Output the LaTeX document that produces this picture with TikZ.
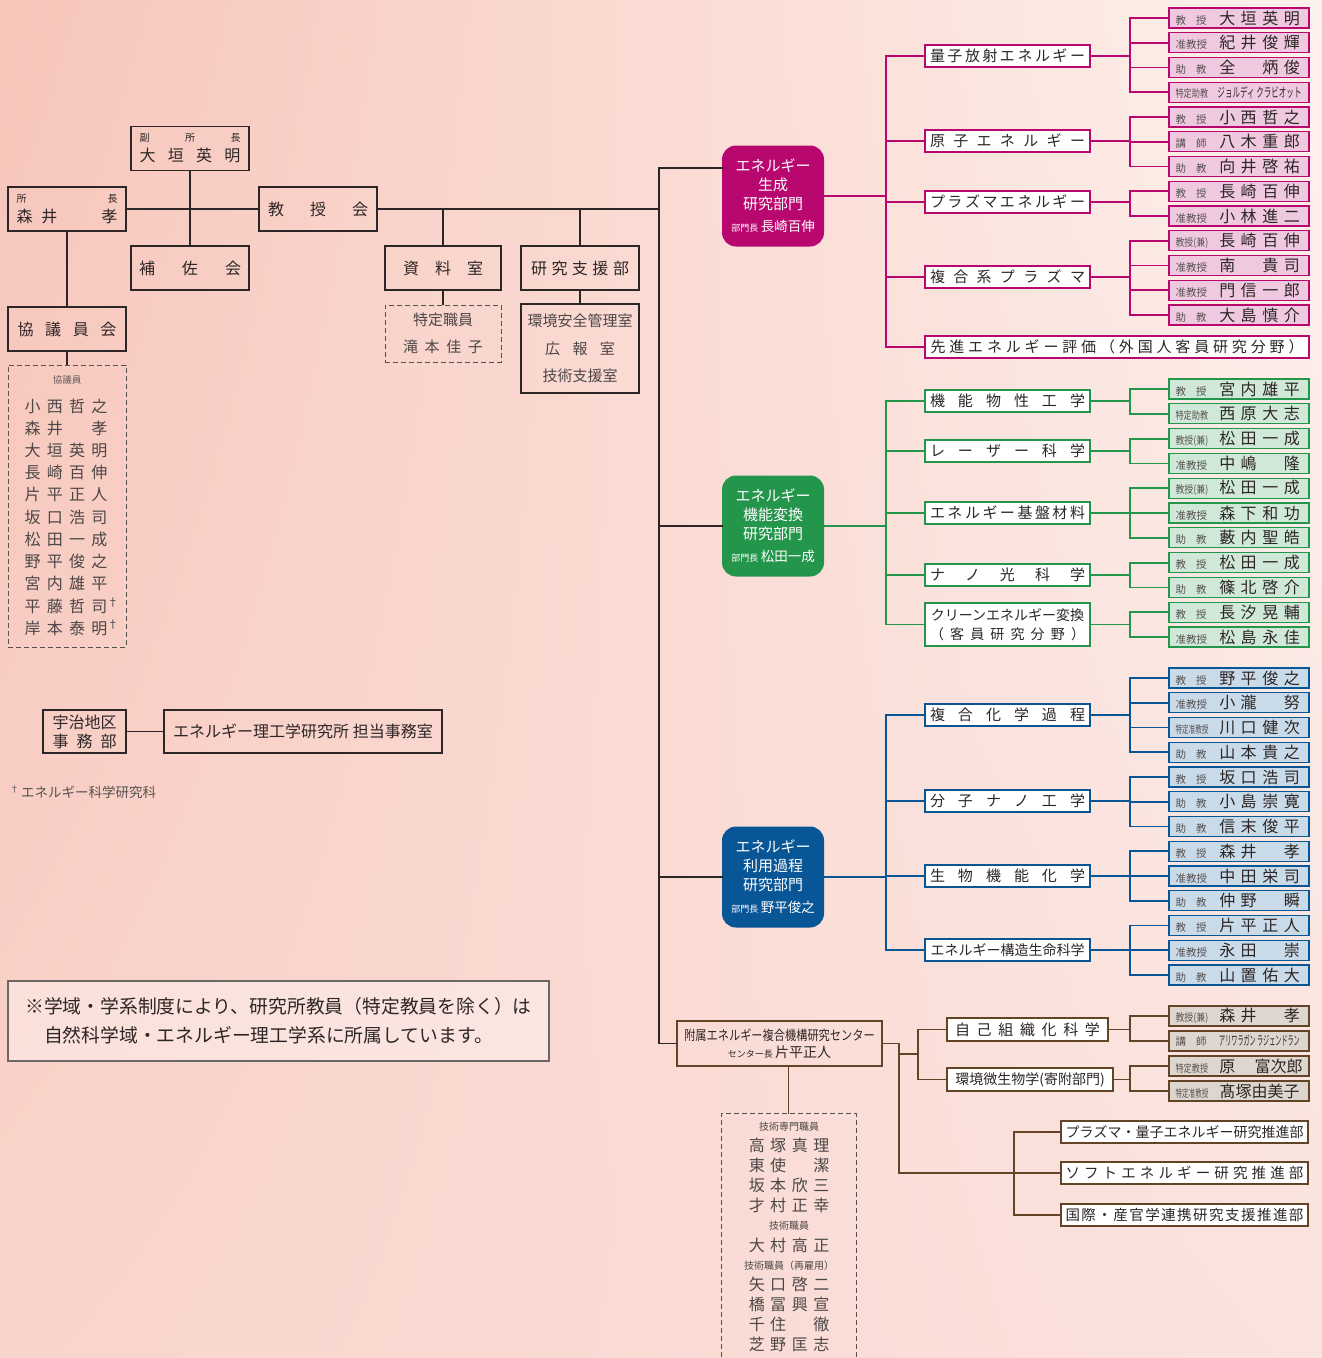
\documentclass[tikz,border=0pt]{standalone}
\usepackage{fontspec}
\setmainfont{Noto Sans CJK JP}
\usepackage{graphicx}
\usetikzlibrary{calc,positioning,math,shadings}

\definecolor{bgA}{RGB}{247,197,186}
\definecolor{bgB}{RGB}{253,241,236}
\definecolor{bgC}{RGB}{249,212,203}
\definecolor{bgD}{RGB}{250,226,222}
\definecolor{ink}{RGB}{45,38,38}
\definecolor{seiseiC}{RGB}{184,8,112}
\definecolor{henkanC}{RGB}{36,150,76}
\definecolor{riyoC}{RGB}{8,86,150}
\definecolor{centerC}{RGB}{100,68,38}

\newcommand\fsz[1]{\fontsize{#1}{#1}\selectfont}
\def\spreadaux#1{\ifx\relax#1\else#1\hfill\expandafter\spreadaux\fi}
\newcommand\spread[2]{\makebox[#1][s]{\spreadaux#2\relax\unskip}}
\newcommand\nm[5][21.5pt]{{\fsz{16}\makebox[#1]{#2}\makebox[#1]{#3}\makebox[#1]{#4}\makebox[#1]{#5}}}
\newcommand\ttl[2][1]{\makebox[41pt][l]{\fsz{10.5}\color{ink!80}\scalebox{#1}[1]{#2}}}
\newcommand\kj{\ttl{\makebox[31pt][s]{教\hfill 授}}}
\newcommand\jkj{\ttl{准教授}}
\newcommand\jk{\ttl{\makebox[31pt][s]{助\hfill 教}}}
\newcommand\ks{\ttl{\makebox[31pt][s]{講\hfill 師}}}
\newcommand\tjk{\ttl[0.78]{特定助教}}
\newcommand\kjk{\ttl[0.85]{教授(兼)}}
\newcommand\tjkj{\ttl[0.63]{特定准教授}}
\newcommand\tkj{\ttl[0.78]{特定教授}}

\tikzset{
  blk/.style={draw=ink, line width=1.8pt, inner sep=0pt, minimum width=118pt,
    minimum height=44pt, align=center, font=\fsz{16}, text=ink},
  dashbox/.style={draw=ink!80, dash pattern=on 5pt off 3pt, line width=1pt,
    inner sep=0pt, text=ink!85},
  dept/.style={fill=#1, rounded corners=14pt, minimum width=102pt,
    minimum height=101pt, inner sep=0pt, text=white, align=center,
    font=\fontsize{15}{19}\selectfont},
  lab/.style={draw=#1, line width=1.8pt, fill=white, minimum width=165pt,
    minimum height=22pt, inner sep=0pt, font=\fsz{15}, text=ink},
  staffbox/.style={draw=#1, fill=#1!22, line width=1.1pt, minimum width=140pt,
    minimum height=20pt, inner sep=0pt, text=ink},
  wire/.style={draw=#1, line width=1.8pt, line cap=rect},
  wire/.default=ink,
}

\begin{document}
\begin{tikzpicture}[x=1pt,y=-1pt]
\tikzmath{
\pitch=24.75;
\gpitch=24.8;
}
\useasboundingbox (0,0) rectangle (1322,1358);
\shade[upper left=bgA, upper right=bgB, lower left=bgC, lower right=bgD] (0,0) rectangle (1322,1358);

% executive
\node[blk] (fuku) at (190,148.5) {{\fsz{10}\spread{101pt}{副所長}}\\[4pt]\spread{101pt}{大垣英明}};
\node[blk] (shocho) at (67,209) {{\fsz{10}\spread{101pt}{所長}}\\[4pt]\makebox[101pt][s]{森\hspace{9pt}井\hfill 孝}};
\node[blk] (kyojukai) at (318,209) {\spread{100pt}{教授会}};
\node[blk] (hosakai) at (190,268) {\spread{102pt}{補佐会}};
\node[blk, minimum width=116pt] (shiryo) at (443,268) {\spread{80pt}{資料室}};
\node[blk] (shien) at (580,268) {\spread{98pt}{研究支援部}};
\node[dashbox, minimum width=116pt, minimum height=57pt, align=center,
  font=\fontsize{15}{27}\selectfont] (shiryoSub) at (443,333.5) {特定職員\\\spread{80pt}{滝本佳子}};
\node[blk, minimum height=89pt, text=ink!85, font=\fontsize{15}{27.5}\selectfont] (shienSub) at (580,348.5)
  {環境安全管理室\\\spread{70pt}{広報室}\\技術支援室};
\node[blk] (kyogikai) at (67,329) {\spread{99pt}{協議員会}};
\node[dashbox, minimum width=118pt, minimum height=282pt] (kyogiin) at (67,506) {};
\node[font=\fsz{9.5}, text=ink!75, inner sep=0pt] (kyogiinT) at (67,380) {協議員};
\foreach \ka/\kb/\kc/\kd [count=\i] in {小/西/哲/之, 森/井//孝, 大/垣/英/明, 長/崎/百/伸,
    片/平/正/人, 坂/口/浩/司, 松/田/一/成, 野/平/俊/之, 宮/内/雄/平,
    平/藤/哲/{司\rlap{\textsuperscript{†}}}, 岸/本/泰/{明\rlap{\textsuperscript{†}}}}
  \node[text=ink!85, inner sep=0pt] (kg\i) at (66,{406+22.2*(\i-1)}) {\nm[22.3pt]{\ka}{\kb}{\kc}{\kd}};

\node[blk, minimum width=83pt, minimum height=43pt, font=\fontsize{16}{19}\selectfont] (jimubu) at (84.5,731.5)
  {宇治地区\\\spread{64pt}{事務部}};
\node[blk, minimum width=278pt, minimum height=43pt] (jimushitsu) at (303,731.5) {エネルギー理工学研究所 担当事務室};
\node[anchor=west, font=\fsz{13.5}, text=ink!80, inner sep=0pt] (fn) at (10,792)
  {\raisebox{5pt}{\fsz{9}†}\hspace{2pt}エネルギー科学研究科};
\node[draw=ink!70, line width=1.2pt, fill=white, fill opacity=0.35, text opacity=1, text=ink,
  minimum width=541pt, minimum height=80pt, inner sep=0pt, align=left,
  font=\fontsize{18.8}{29}\selectfont] (note) at (278.5,1021)
  {※学域・学系制度により、研究所教員（特定教員を除く）は\\　自然科学域・エネルギー理工学系に所属しています。};

% departments
\node[dept=seiseiC] (seisei) at (773,196) {エネルギー\\生成\\研究部門\\[3pt]{\fsz{9}部門長}\,{\fsz{13.5}長崎百伸}};
\node[dept=henkanC] (henkan) at (773,526) {エネルギー\\機能変換\\研究部門\\[3pt]{\fsz{9}部門長}\,{\fsz{13.5}松田一成}};
\node[dept=riyoC] (riyo) at (773,877) {エネルギー\\利用過程\\研究部門\\[3pt]{\fsz{9}部門長}\,{\fsz{13.5}野平俊之}};
\node[draw=centerC, line width=1.8pt, minimum width=205pt, minimum height=45pt, inner sep=0pt,
  align=center, text=ink, font=\fontsize{13.5}{17}\selectfont] (center) at (779.5,1043.5)
  {\scalebox{0.83}[1]{附属エネルギー複合機構研究センター}\\{\fsz{9}センター長}\,{\fsz{14}片平正人}};

% research areas
\node[lab=seiseiC] (s1) at (1007.5,56) {\spread{155pt}{量子放射エネルギー}};
\node[lab=seiseiC] (s2) at (1007.5,141) {\spread{155pt}{原子エネルギー}};
\node[lab=seiseiC] (s3) at (1007.5,202) {\spread{155pt}{プラズマエネルギー}};
\node[lab=seiseiC] (s4) at (1007.5,277) {\spread{155pt}{複合系プラズマ}};
\node[lab=seiseiC, minimum width=384pt] (s5) at (1117,347) {\spread{373pt}{先進エネルギー評価（外国人客員研究分野）}};

\node[lab=henkanC] (h1) at (1007.5,401) {\spread{155pt}{機能物性工学}};
\node[lab=henkanC] (h2) at (1007.5,451) {\spread{155pt}{レーザー科学}};
\node[lab=henkanC] (h3) at (1007.5,513) {\spread{155pt}{エネルギー基盤材料}};
\node[lab=henkanC] (h4) at (1007.5,575) {\spread{155pt}{ナノ光科学}};
\node[lab=henkanC, minimum height=43pt, align=center, font=\fontsize{14}{19}\selectfont] (h5) at (1007.5,624.5)
  {クリーンエネルギー変換\\\spread{155pt}{（客員研究分野）}};

\node[lab=riyoC] (r1) at (1007.5,715) {\spread{155pt}{複合化学過程}};
\node[lab=riyoC] (r2) at (1007.5,801) {\spread{155pt}{分子ナノ工学}};
\node[lab=riyoC] (r3) at (1007.5,876) {\spread{155pt}{生物機能化学}};
\node[lab=riyoC, font=\fsz{14}] (r4) at (1007.5,950) {エネルギー構造生命科学};

\node[lab=centerC, minimum width=161pt, minimum height=23pt] (c1) at (1027.5,1029.5) {\spread{145pt}{自己組織化科学}};
\node[lab=centerC, minimum width=166pt, minimum height=23pt, font=\fsz{14}] (c2) at (1030,1079.5) {環境微生物学(寄附部門)};
\node[lab=centerC, minimum width=247pt, font=\fsz{14}] (p1) at (1184.5,1132) {\spread{238pt}{プラズマ・量子エネルギー研究推進部}};
\node[lab=centerC, minimum width=247pt, font=\fsz{14.5}] (p2) at (1184.5,1173) {\spread{238pt}{ソフトエネルギー研究推進部}};
\node[lab=centerC, minimum width=247pt, font=\fsz{14.5}] (p3) at (1184.5,1215) {\spread{238pt}{国際・産官学連携研究支援推進部}};

% staff
\foreach \ti/\nmv [count=\i] in {
    \kj/{\nm{大}{垣}{英}{明}}, \jkj/{\nm{紀}{井}{俊}{輝}}, \jk/{\nm{全}{}{炳}{俊}},
    \tjk/{\makebox[86pt]{\fsz{13}\scalebox{0.58}[1]{ジョルディ クラビオット}}},
    \kj/{\nm{小}{西}{哲}{之}}, \ks/{\nm{八}{木}{重}{郎}}, \jk/{\nm{向}{井}{啓}{祐}},
    \kj/{\nm{長}{崎}{百}{伸}}, \jkj/{\nm{小}{林}{進}{二}}, \kjk/{\nm{長}{崎}{百}{伸}},
    \jkj/{\nm{南}{}{貴}{司}}, \jkj/{\nm{門}{信}{一}{郎}}, \jk/{\nm{大}{島}{慎}{介}}}
  \node[staffbox=seiseiC] (ps\i) at (1239,{18+\pitch*(\i-1)}) {\ti\nmv};

\foreach \ti/\nmv [count=\i] in {
    \kj/{\nm{宮}{内}{雄}{平}}, \tjk/{\nm{西}{原}{大}{志}}, \kjk/{\nm{松}{田}{一}{成}},
    \jkj/{\nm{中}{嶋}{}{隆}}, \kjk/{\nm{松}{田}{一}{成}}, \jkj/{\nm{森}{下}{和}{功}},
    \jk/{\nm{藪}{内}{聖}{皓}}, \kj/{\nm{松}{田}{一}{成}}, \jk/{\nm{篠}{北}{啓}{介}},
    \kj/{\nm{長}{汐}{晃}{輔}}, \jkj/{\nm{松}{島}{永}{佳}}}
  \node[staffbox=henkanC] (gs\i) at (1239,{389+\gpitch*(\i-1)}) {\ti\nmv};

\foreach \ti/\nmv [count=\i] in {
    \kj/{\nm{野}{平}{俊}{之}}, \jkj/{\nm{小}{瀧}{}{努}}, \tjkj/{\nm{川}{口}{健}{次}},
    \jk/{\nm{山}{本}{貴}{之}}, \kj/{\nm{坂}{口}{浩}{司}}, \jk/{\nm{小}{島}{崇}{寛}},
    \jk/{\nm{信}{末}{俊}{平}}, \kj/{\nm{森}{井}{}{孝}}, \jkj/{\nm{中}{田}{栄}{司}},
    \jk/{\nm{仲}{野}{}{瞬}}, \kj/{\nm{片}{平}{正}{人}}, \jkj/{\nm{永}{田}{}{崇}},
    \jk/{\nm{山}{置}{佑}{大}}}
  \node[staffbox=riyoC] (bs\i) at (1239,{678+\pitch*(\i-1)}) {\ti\nmv};

\node[staffbox=centerC] (cs1) at (1239,1016) {\kjk\nm{森}{井}{}{孝}};
\node[staffbox=centerC] (cs2) at (1239,1041) {\ks\makebox[86pt]{\fsz{13}\scalebox{0.47}[1]{アリワラガン ラジェンドラン}}};
\node[staffbox=centerC] (cs3) at (1239,1066) {\tkj\makebox[86pt]{\fsz{16}\makebox[21.5pt]{原}\makebox[64.5pt][r]{富次郎}}};
\node[staffbox=centerC] (cs4) at (1239,1091) {\tjkj\makebox[86pt]{\fsz{16}髙塚由美子}};

% technical staff of the center
\node[dashbox, minimum width=135pt, minimum height=252pt, anchor=north] (tech) at (788.5,1113) {};
\foreach \yy/\txt [count=\i] in {1127/{\fsz{10}技術専門職員}, 1145/{\nm{高}{塚}{真}{理}},
    1165/{\nm{東}{使}{}{潔}}, 1185/{\nm{坂}{本}{欣}{三}}, 1205/{\nm{才}{村}{正}{幸}},
    1226/{\fsz{10}技術職員}, 1245/{\nm{大}{村}{高}{正}}, 1266/{\fsz{10}技術職員（再雇用）},
    1284/{\nm{矢}{口}{啓}{二}}, 1304/{\nm{橋}{冨}{興}{宣}}, 1324/{\nm{千}{住}{}{徹}},
    1344/{\nm{芝}{野}{匡}{志}}}
  \node[text=ink!85, inner sep=0pt] (tc\i) at (789,\yy) {\txt};

% black connectors
\coordinate (trunk) at (659,0);
\coordinate (seiseiIn) at ([yshift=28pt]seisei.west);
\draw[wire] (shocho.east) -- (kyojukai.west);
\draw[wire] (fuku.south) -- (hosakai.north);
\draw[wire] (shocho.south) -- (kyogikai.north);
\draw[wire] (kyogikai.south) -- (kyogiin.north);
\draw[wire] (kyojukai.east) -- (kyojukai.east -| trunk);
\draw[wire] (shiryo.north) -- (shiryo.north |- kyojukai.east);
\draw[wire] (shien.north) -- (shien.north |- kyojukai.east);
\draw[wire] (shiryo.south) -- (shiryoSub.north);
\draw[wire] (shien.south) -- (shienSub.north);
\draw[wire] (jimubu.east) -- (jimushitsu.west);
\draw[wire] (seiseiIn) -- (seiseiIn -| trunk) -- (center.west -| trunk) -- (center.west);
\draw[wire] (henkan.west -| trunk) -- (henkan.west);
\draw[wire] (riyo.west -| trunk) -- (riyo.west);

% coloured connectors
\coordinate (jP) at (886,0);
\coordinate (jS) at (1130,0);
\draw[wire=seiseiC] (seisei.east) -- (seisei.east -| jP);
\draw[wire=seiseiC] (s1.west -| jP) -- (s5.west -| jP);
\foreach \k in {1,...,5} \draw[wire=seiseiC] (s\k.west -| jP) -- (s\k.west);
\foreach \k/\fa/\fb in {1/1/4, 2/5/7, 3/8/9, 4/10/13} {
  \draw[wire=seiseiC] (s\k.east) -- (s\k.east -| jS);
  \draw[wire=seiseiC] (ps\fa.west -| jS) -- (ps\fb.west -| jS);
}
\foreach \i in {1,...,13} \draw[wire=seiseiC] (ps\i.west -| jS) -- (ps\i.west);

\draw[wire=henkanC] (henkan.east) -- (henkan.east -| jP);
\draw[wire=henkanC] (h1.west -| jP) -- (h5.west -| jP);
\foreach \k in {1,...,5} \draw[wire=henkanC] (h\k.west -| jP) -- (h\k.west);
\foreach \k/\fa/\fb in {1/1/2, 2/3/4, 3/5/7, 4/8/9, 5/10/11} {
  \draw[wire=henkanC] (h\k.east) -- (h\k.east -| jS);
  \draw[wire=henkanC] (gs\fa.west -| jS) -- (gs\fb.west -| jS);
}
\foreach \i in {1,...,11} \draw[wire=henkanC] (gs\i.west -| jS) -- (gs\i.west);

\draw[wire=riyoC] (riyo.east) -- (riyo.east -| jP);
\draw[wire=riyoC] (r1.west -| jP) -- (r4.west -| jP);
\foreach \k in {1,...,4} \draw[wire=riyoC] (r\k.west -| jP) -- (r\k.west);
\foreach \k/\fa/\fb in {1/1/4, 2/5/7, 3/8/10, 4/11/13} {
  \draw[wire=riyoC] (r\k.east) -- (r\k.east -| jS);
  \draw[wire=riyoC] (bs\fa.west -| jS) -- (bs\fb.west -| jS);
}
\foreach \i in {1,...,13} \draw[wire=riyoC] (bs\i.west -| jS) -- (bs\i.west);

\coordinate (jC) at (899,0);
\coordinate (jD) at (918,0);
\coordinate (jE) at (1014,0);
\coordinate (cfork) at ([yshift=-10.5pt]center.east -| jC);
\draw[wire=centerC] (center.east) -- (center.east -| jC) -- (p2.west -| jC) -- (p2.west -| jE);
\draw[wire=centerC] (cfork) -- (cfork -| jD);
\draw[wire=centerC] (c1.west -| jD) -- (c2.west -| jD);
\foreach \k in {1,2} \draw[wire=centerC] (c\k.west -| jD) -- (c\k.west);
\draw[wire=centerC] (p1.west -| jE) -- (p3.west -| jE);
\foreach \k in {1,2,3} \draw[wire=centerC] (p\k.west -| jE) -- (p\k.west);
\foreach \k/\fa/\fb in {1/1/2, 2/3/4} {
  \draw[wire=centerC] (c\k.east) -- (c\k.east -| jS);
  \draw[wire=centerC] (cs\fa.west -| jS) -- (cs\fb.west -| jS);
}
\foreach \i in {1,...,4} \draw[wire=centerC] (cs\i.west -| jS) -- (cs\i.west);
\draw[wire=centerC] (tech.north) -- (tech.north |- center.south);
\end{tikzpicture}
\end{document}
